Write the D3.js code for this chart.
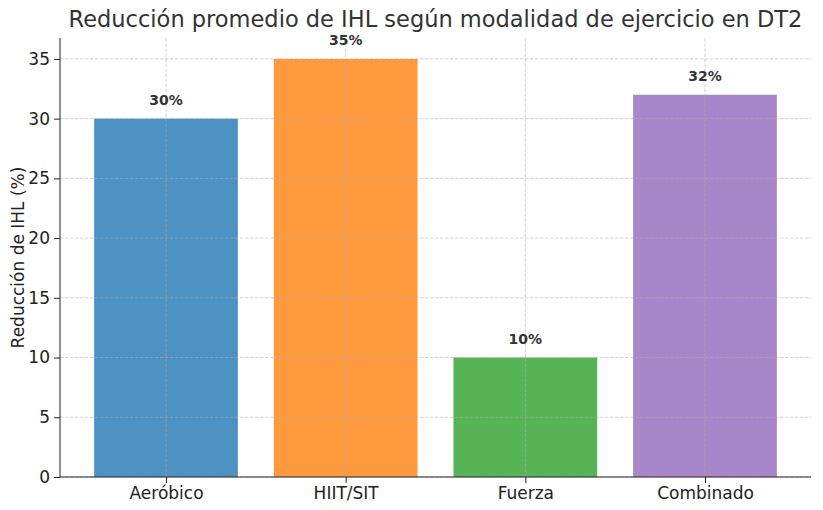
<!DOCTYPE html>
<html>
<head>
<meta charset="utf-8">
<script src="https://cdn.jsdelivr.net/npm/d3@7"></script>
<style>
  body { margin: 0; background: #fff; }
  text { font-family: "DejaVu Sans", sans-serif; }
</style>
</head>
<body>
<svg id="chart" width="823" height="510"></svg>
<script>
const categories = ["Aeróbico", "HIIT/SIT", "Fuerza", "Combinado"];
const values = [30, 35, 10, 32];
const colors = ["#4c92c3", "#ff993e", "#56b356", "#a985ca"];
const yTicks = [0, 5, 10, 15, 20, 25, 30, 35];

let svg = d3.select('#chart');
let margin = {left: 60, right: 12, top: 38, bottom: 33};
let width = 823, height = 510;

// matplotlib-like domain: bars at 0..n-1, width 0.8, 5% margins
let n = categories.length;
let lo = -0.4, hi = n - 1 + 0.4, pad = (hi - lo) * 0.05;
let x = d3.scaleLinear()
          .domain([lo - pad, hi + pad])
          .range([margin.left, width - margin.right]);
let y = d3.scaleLinear()
          .domain([0, d3.max(values) * 1.05])
          .range([height - margin.bottom, margin.top]);

let g = svg.append("g");

// bars
g.selectAll(".bar")
 .data(values)
 .enter()
 .append("rect")
 .attr("class", "bar")
 .attr("x", (d, i) => x(i - 0.4))
 .attr("width", x(0.4) - x(-0.4))
 .attr("y", d => y(d))
 .attr("height", d => y(0) - y(d))
 .attr("fill", (d, i) => colors[i])

// grid over bars
g.selectAll(".hgrid")
 .data(yTicks)
 .enter()
 .append("line")
 .attr("x1", x.range()[0]).attr("x2", x.range()[1])
 .attr("y1", d => y(d)).attr("y2", d => y(d))
 .attr("stroke", "#b0b0b0").attr("stroke-opacity", 0.7)
 .attr("stroke-dasharray", "3.5,1.5").attr("stroke-width", 0.8)

g.selectAll(".vgrid")
 .data(categories)
 .enter()
 .append("line")
 .attr("x1", (d, i) => x(i)).attr("x2", (d, i) => x(i))
 .attr("y1", y.range()[0]).attr("y2", y.range()[1])
 .attr("stroke", "#b0b0b0").attr("stroke-opacity", 0.7)
 .attr("stroke-dasharray", "3.5,1.5").attr("stroke-width", 0.8)

// value labels
g.selectAll(".lbl")
 .data(values)
 .enter()
 .append("text")
 .attr("x", (d, i) => x(i))
 .attr("y", d => y(d + 1))
 .attr("dy", -2)
 .attr("text-anchor", "middle")
 .attr("font-size", "14px")
 .attr("font-weight", "bold")
 .attr("fill", "#333")
 .text(d => d + "%")

// y axis
let yAxis = d3.axisLeft(y).tickValues(yTicks).tickSize(6).tickPadding(4);
let ya = svg.append("g")
            .attr("transform", "translate(" + margin.left + ",0)")
            .call(yAxis);
ya.select(".domain").attr("stroke", "#222")
  .attr("d", "M0," + y.range()[0] + "V" + y.range()[1]);
ya.selectAll(".tick line").attr("stroke", "#222");
ya.selectAll(".tick text").attr("font-size", "17px").attr("fill", "#222")
  .attr("font-family", "DejaVu Sans");

// x axis
let xAxis = d3.axisBottom(x).tickValues(d3.range(n)).tickFormat(i => categories[i])
              .tickSize(6).tickPadding(4);
let xa = svg.append("g")
            .attr("transform", "translate(0," + (height - margin.bottom) + ")")
            .call(xAxis);
xa.select(".domain").attr("stroke", "#222").attr("d", "M" + x.range()[0] + ",0H" + x.range()[1]);
xa.selectAll(".tick line").attr("stroke", "#222");
xa.selectAll(".tick text").attr("font-size", "17px").attr("fill", "#222")
  .attr("font-family", "DejaVu Sans");

// title
svg.append("text")
   .attr("x", (x.range()[0] + x.range()[1]) / 2)
   .attr("y", 27)
   .attr("text-anchor", "middle")
   .attr("font-size", "22.5px")
   .attr("fill", "#333")
   .text("Reducción promedio de IHL según modalidad de ejercicio en DT2")

// y label
svg.append("text")
   .attr("transform", "translate(24," + ((y.range()[0] + y.range()[1]) / 2) + ") rotate(-90)")
   .attr("text-anchor", "middle")
   .attr("font-size", "17px")
   .attr("fill", "#222")
   .text("Reducción de IHL (%)")
</script>
</body>
</html>
